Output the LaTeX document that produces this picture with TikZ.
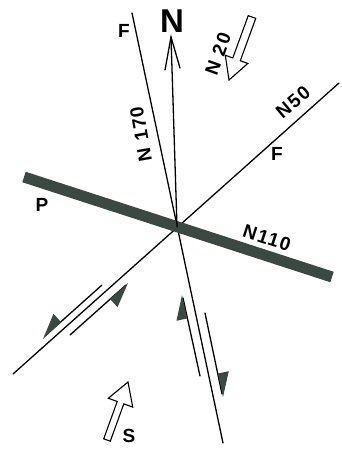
\documentclass[tikz,border=0pt]{standalone}
\usepackage{fontspec}
\setmainfont{Liberation Sans}
\newfontfamily\lblfont[LetterSpace=8]{Liberation Sans Bold}
\definecolor{barcol}{RGB}{60,72,66}
\begin{document}
\begin{tikzpicture}[x=1pt,y=-1pt,
  ln/.style={line width=1.3pt, line cap=round},
  lbl/.style={font=\lblfont\fontsize{19}{19}\selectfont, inner sep=0pt},
  barb/.style={fill=barcol},
  block/.style={draw, line width=1.1pt, fill=white, line join=miter}]
\useasboundingbox (0,0) rectangle (341,450);
% main lines
\coordinate (c) at (177,227);
\coordinate (f1) at (132,13); \coordinate (f2) at (223,443);
\coordinate (g1) at (13,374); \coordinate (g2) at (339,83);
\coordinate (p1) at (24,177); \coordinate (p2) at (332,277);
\coordinate (ntip) at (171,37);
\coordinate (nl) at (165,70); \coordinate (nr) at (180,68);
\draw[ln] (f1) -- (f2);
\draw[ln] (g1) -- (g2);
\draw[line width=11pt, barcol] (p1) -- (p2);
\draw[ln] (c) -- (ntip);
\draw[ln, line join=miter] (nl) -- (ntip) -- (nr);
% shear arrows on N50 fault
\coordinate (a1) at (102,285); \coordinate (a2) at (45,336);
\draw[ln] (a1) -- (a2);
\fill[barb] (43,339) -- (61,322) -- (53.5,313.8) -- cycle;
\coordinate (b1) at (70,335); \coordinate (b2) at (126,285);
\draw[ln] (b1) -- (b2);
\fill[barb] (128,283) -- (110.1,299) -- (117.5,307.2) -- cycle;
% shear arrows on N170 fault
\coordinate (d1) at (200,376); \coordinate (d2) at (183,298);
\draw[ln] (d1) -- (d2);
\fill[barb] (182,295) -- (187.2,318.4) -- (176.5,320.8) -- cycle;
\coordinate (e1) at (205,313); \coordinate (e2) at (222,394);
\draw[ln] (e1) -- (e2);
\fill[barb] (223,397) -- (218,373.5) -- (228.8,371.2) -- cycle;
% hollow arrows
\draw[block] (248.24,15.63) -- (232.79,57.97) -- (225.28,55.22) -- (229,80)
  -- (247.82,63.46) -- (240.3,60.71) -- (255.76,18.37) -- cycle;
\draw[block] (103.71,438.81) -- (117.23,401.49) -- (108.3,398.26) -- (128,382)
  -- (132.74,407.1) -- (123.81,403.87) -- (110.29,441.19) -- cycle;
% labels
\node[font=\fontsize{33}{33}\selectfont\bfseries, inner sep=0pt] (N) at (172,21) {N};
\node[lbl] (F1) at (124,31) {F};
\node[lbl, rotate=100] (n170) at (141,134) {N 170};
\node[lbl, rotate=70] (n20) at (218,54) {N 20};
\node[lbl, rotate=40] (n50) at (293,102) {N50};
\node[lbl] (F2) at (277,154) {F};
\node[lbl] (P) at (42,205) {P};
\node[lbl, rotate=-18] (n110) at (267,238) {N110};
\node[lbl] (S) at (129,436) {S};
\end{tikzpicture}
\end{document}
